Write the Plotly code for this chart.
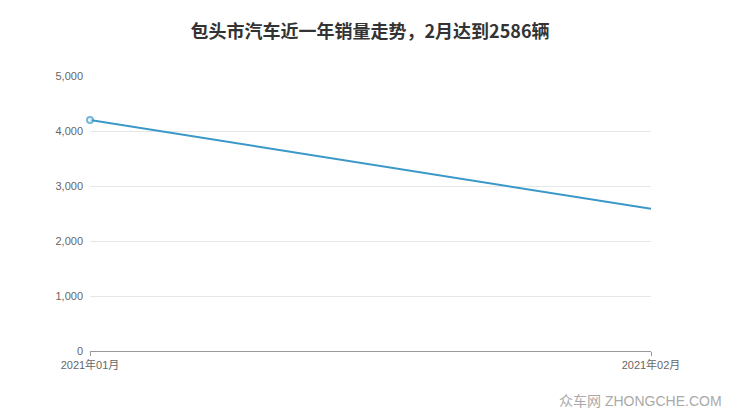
import plotly.graph_objects as go

months = ["2021年01月", "2021年02月"]
sales = [4200, 2586]
y_ticks = [0, 1000, 2000, 3000, 4000, 5000]
y_labels = ["0", "1,000", "2,000", "3,000", "4,000", "5,000"]
title_text = "包头市汽车近一年销量走势，2月达到2586辆"
watermark = "众车网 ZHONGCHE.COM"

xpos = list(range(len(months)))
fig = go.Figure()
fig.add_trace(go.Scatter(
    x=xpos, y=sales, mode="lines+markers",
    line=dict(color="#3a98c9", width=2),
    marker=dict(size=[6] + [0] * (len(sales) - 1), color="white",
                line=dict(color="#3a98c9", width=2)),
    cliponaxis=False, hoverinfo="skip", showlegend=False,
))
tick_font = dict(color="#666", size=11, family="Liberation Sans, Noto Sans CJK SC, sans-serif")
fig.update_layout(
    width=740, height=417,
    margin=dict(l=90, r=89, t=76, b=66),
    paper_bgcolor="white", plot_bgcolor="white",
    font=dict(family="Liberation Sans, Noto Sans CJK SC, sans-serif", color="#666", size=11),
    title=dict(text="<b>" + title_text + "</b>", x=0.5, xanchor="center", y=0.923, yanchor="middle",
               font=dict(size=18, color="#333", family="Noto Sans CJK SC, sans-serif")),
    xaxis=dict(range=[0, len(months) - 1], tickvals=xpos, ticktext=months, automargin=False,
               showgrid=False, zeroline=False, showline=True, linecolor="#999", linewidth=1,
               ticks="outside", ticklen=4, tickcolor="#999", tickfont=tick_font,
               ticklabelstandoff=0),
    yaxis=dict(range=[0, 5000], tickvals=y_ticks, ticktext=y_labels, automargin=False,
               showgrid=True, gridcolor="#e6e6e6", zeroline=False, showline=False,
               ticks="", tickfont=tick_font, ticklabelstandoff=6),
    annotations=[dict(text=watermark, xref="paper", yref="paper", x=1.13, y=-0.145,
                      xanchor="right", yanchor="top", showarrow=False,
                      font=dict(size=14, color="#aaa", family="Liberation Sans, Noto Sans CJK SC, sans-serif"))],
)
fig.write_html("out.html", config={"displayModeBar": False},
               post_script="document.body.style.margin='0';")
